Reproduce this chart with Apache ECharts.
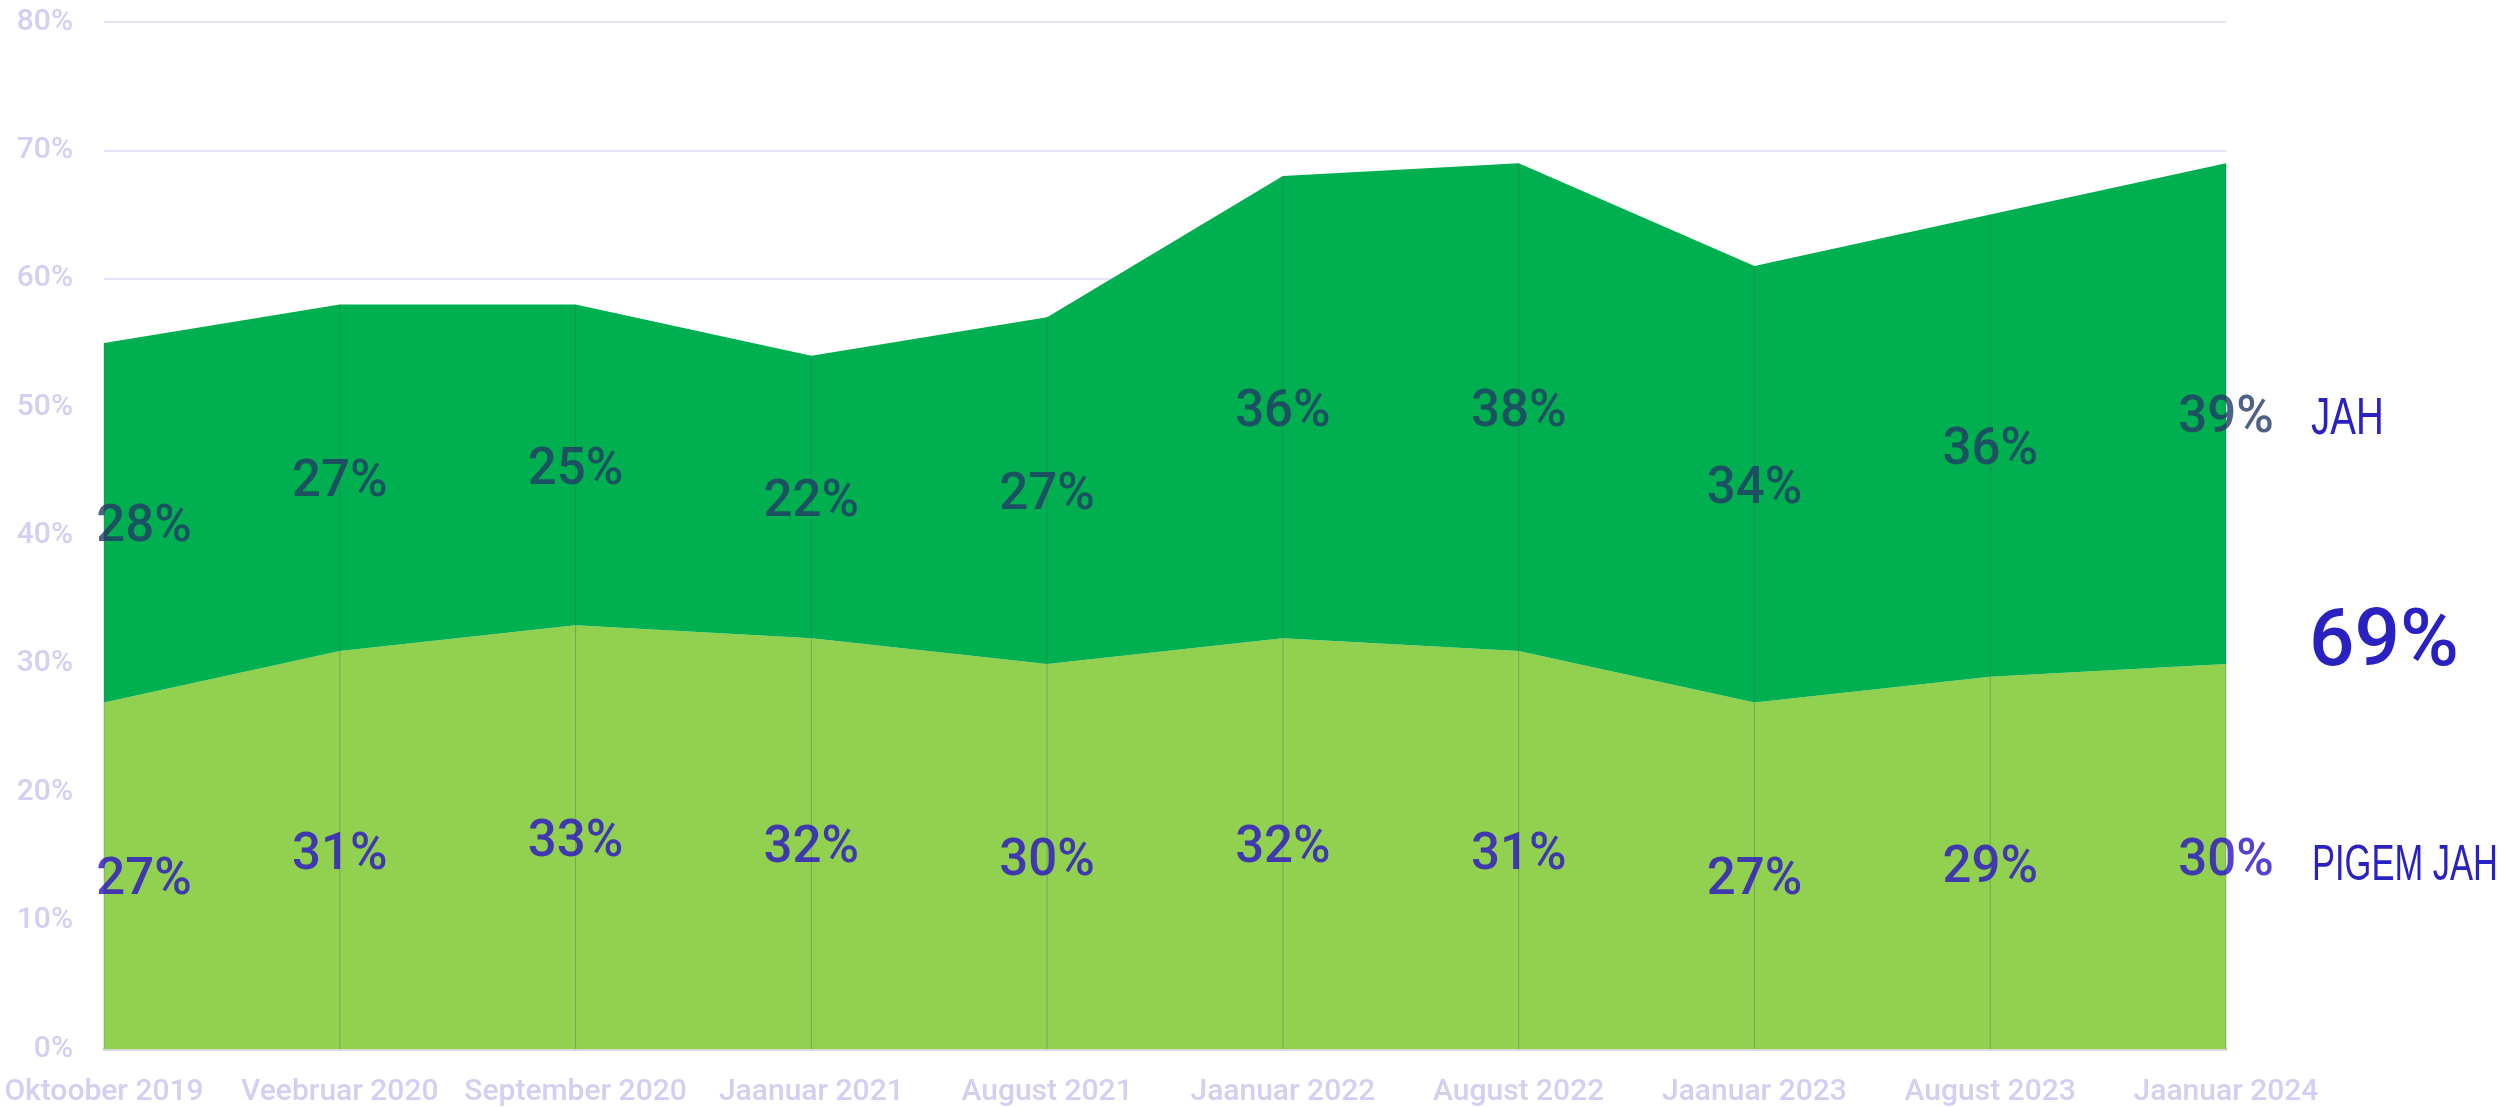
<!DOCTYPE html>
<html>
<head>
<meta charset="utf-8">
<script src="https://cdn.jsdelivr.net/npm/echarts@6/dist/echarts.min.js"></script>
<style>
  html, body { margin: 0; padding: 0; background: #ffffff; }
  #chart { width: 2506px; height: 1107px; }
</style>
</head>
<body>
<div id="chart"></div>
<script>
// Survey waves along the x axis
const categories = [
  'Oktoober 2019', 'Veebruar 2020', 'September 2020', 'Jaanuar 2021', 'August 2021',
  'Jaanuar 2022', 'August 2022', 'Jaanuar 2023', 'August 2023', 'Jaanuar 2024'
];
// Share of answers per wave, in percent
const pigemJah = [27, 31, 33, 32, 30, 32, 31, 27, 29, 30];
const jah      = [28, 27, 25, 22, 27, 36, 38, 34, 36, 39];
// Value axis ticks
const yTicks = [0, 10, 20, 30, 40, 50, 60, 70, 80];

const totals = pigemJah.map((v, i) => v + jah[i]);
const lastTotal = totals[totals.length - 1];

const BLUE = '#2a12c6';
const LEGEND_BLUE = '#2a22c0';
const NAVY = '#233a66';
const AXIS_TEXT = '#d3cef2';

const chart = echarts.init(document.getElementById('chart'), null, { renderer: 'canvas' });

// Value labels sit in the middle of each band
const bandLabel = (color) => ({
  show: true,
  position: 'inside',
  offset: [0, 6],
  color: color,
  fontFamily: 'Roboto',
  fontWeight: 500,
  fontSize: 51,
  formatter: p => p.value[2] + '%'
});

const pigemLabelData = pigemJah.map((v, i) => {
  const d = { value: [i, v / 2, v] };
  if (i === 0) d.label = { offset: [40, 6] };
  return d;
});
const jahLabelData = jah.map((v, i) => {
  const d = { value: [i, pigemJah[i] + v / 2, v] };
  if (i === 0) d.label = { offset: [40, 6] };
  return d;
});

chart.setOption({
  animation: false,
  backgroundColor: '#ffffff',
  grid: { left: 104, right: 280, top: 22, bottom: 57, containLabel: false },
  xAxis: {
    type: 'category',
    data: categories,
    boundaryGap: false,
    axisLine: { show: true, lineStyle: { color: '#d9d9d9', width: 3 } },
    axisTick: { show: false },
    splitLine: { show: false },
    axisLabel: {
      interval: 0,
      color: AXIS_TEXT,
      fontFamily: 'Roboto',
      fontWeight: 500,
      fontSize: 30,
      margin: 28
    }
  },
  yAxis: {
    type: 'value',
    min: yTicks[0],
    max: yTicks[yTicks.length - 1],
    interval: yTicks[1] - yTicks[0],
    axisLine: { show: false },
    axisTick: { show: false },
    splitLine: { show: true, lineStyle: { color: '#dcd8f6', width: 1.5 } },
    axisLabel: {
      formatter: '{value}%',
      color: AXIS_TEXT,
      fontFamily: 'Roboto',
      fontWeight: 500,
      fontSize: 30,
      margin: 31
    }
  },
  series: [
    {
      name: 'PIGEM JAH',
      type: 'line',
      stack: 'total',
      data: pigemJah,
      symbol: 'none',
      lineStyle: { width: 0 },
      areaStyle: { color: '#92d050', opacity: 1 },
      z: 2
    },
    {
      name: 'JAH',
      type: 'line',
      stack: 'total',
      data: jah,
      symbol: 'none',
      lineStyle: { width: 0 },
      areaStyle: { color: '#00b050', opacity: 1 },
      z: 2
    },
    {
      // thin dividers at each wave, as tall as the stacked total
      name: 'dividers',
      type: 'bar',
      data: totals,
      barWidth: 1,
      itemStyle: { color: 'rgba(70, 95, 70, 0.35)' },
      silent: true,
      z: 3
    },
    {
      name: 'PIGEM JAH labels',
      type: 'scatter',
      data: pigemLabelData,
      symbolSize: 0,
      label: bandLabel(BLUE),
      silent: true,
      z: 5
    },
    {
      name: 'JAH labels',
      type: 'scatter',
      data: jahLabelData,
      symbolSize: 0,
      label: bandLabel(NAVY),
      silent: true,
      z: 5
    }
  ],
  graphic: [
    {
      type: 'text',
      x: 2311, y: 420,
      scaleX: 0.74,
      style: {
        text: 'JAH',
        fill: LEGEND_BLUE,
        font: '52px "Liberation Sans"',
        textAlign: 'left',
        textVerticalAlign: 'middle'
      }
    },
    {
      type: 'text',
      x: 2309, y: 645,
      style: {
        text: lastTotal + '%',
        fill: LEGEND_BLUE,
        font: '500 80px Roboto',
        textAlign: 'left',
        textVerticalAlign: 'middle'
      }
    },
    {
      type: 'text',
      x: 2312, y: 866,
      scaleX: 0.69,
      style: {
        text: 'PIGEM JAH',
        fill: LEGEND_BLUE,
        font: '50px "Liberation Sans"',
        textAlign: 'left',
        textVerticalAlign: 'middle'
      }
    }
  ]
});
</script>
</body>
</html>
